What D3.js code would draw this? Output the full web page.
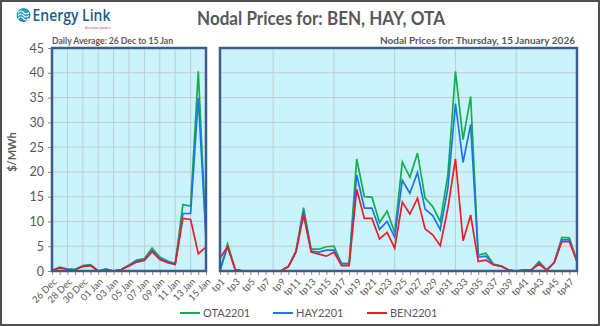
<!DOCTYPE html>
<html><head><meta charset="utf-8">
<script src="https://cdn.jsdelivr.net/npm/d3@7"></script>
<style>
body{margin:0;background:#fff}
svg{display:block;font-family:Lato,'Liberation Sans',sans-serif}
</style>
</head><body>
<svg id="c" width="600" height="326"></svg>
<script>
// ---------- DATA ----------
const days = ["26 Dec","27 Dec","28 Dec","29 Dec","30 Dec","31 Dec","01 Jan","02 Jan","03 Jan","04 Jan","05 Jan",
  "06 Jan","07 Jan","08 Jan","09 Jan","10 Jan","11 Jan","12 Jan","13 Jan","14 Jan","15 Jan"];
const otaDaily = [0.1,0.8,0.4,0.3,1.1,1.3,0.0,0.4,0.0,0.3,1.2,2.2,2.5,4.6,2.8,2.0,1.5,13.4,13.1,40.3,6.8];
const hayDaily = [0.1,0.7,0.4,0.3,1.0,1.2,0.0,0.4,0.0,0.3,1.1,2.0,2.3,4.2,2.5,1.9,1.4,11.6,11.6,34.9,6.7];
const benDaily = [0.1,0.6,0.3,0.2,0.9,1.1,0.0,0.3,0.0,0.3,1.0,1.8,2.1,3.9,2.3,1.7,1.3,10.6,10.4,3.5,4.8];

const periods = ["tp1","tp2","tp3","tp4","tp5","tp6","tp7","tp8","tp9","tp10","tp11","tp12","tp13","tp14","tp15","tp16",
  "tp17","tp18","tp19","tp20","tp21","tp22","tp23","tp24","tp25","tp26","tp27","tp28","tp29","tp30","tp31","tp32",
  "tp33","tp34","tp35","tp36","tp37","tp38","tp39","tp40","tp41","tp42","tp43","tp44","tp45","tp46","tp47","tp48"];
const otaTP = [0.1,5.5,0.3,0,0,0,0,0,0,0.9,4.0,12.8,4.4,4.4,4.9,5.0,1.5,1.5,22.6,15.0,14.9,9.8,12.1,7.7,
  22.0,18.9,23.8,14.7,13.0,10.0,19.4,40.3,26.5,35.2,3.2,3.6,1.4,1.0,0.2,0,0.2,0.2,1.9,0.2,1.7,6.8,6.7,1.9];
const hayTP = [0.1,4.9,0.3,0,0,0,0,0,0,0.9,3.9,12.0,4.0,3.8,4.2,4.2,1.5,1.5,19.4,12.7,12.7,8.4,10.0,6.8,
  18.3,15.7,19.9,12.5,11.2,8.4,16.7,33.8,21.9,29.6,2.8,3.0,1.3,1.0,0.2,0,0.2,0.2,1.7,0.2,1.7,6.3,6.3,1.9];
const benTP = [2.6,4.9,0.3,0,0,0,0,0,0,0.9,3.8,11.3,3.8,3.4,3.0,3.8,1.1,1.1,16.5,10.6,10.6,6.5,7.8,4.6,
  13.9,11.5,14.7,8.5,7.3,5.1,12.7,22.6,6.1,11.3,1.9,2.2,1.2,1.0,0.2,0,0.2,0.2,1.4,0.2,1.7,5.9,5.9,1.9];

const yTicks = [0,5,10,15,20,25,30,35,40,45];
const dayLabels = ["26 Dec","28 Dec","30 Dec","01 Jan","03 Jan","05 Jan","07 Jan","09 Jan","11 Jan","13 Jan","15 Jan"];
const tpLabels = ["tp1","tp3","tp5","tp7","tp9","tp11","tp13","tp15","tp17","tp19","tp21","tp23","tp25","tp27",
  "tp29","tp31","tp33","tp35","tp37","tp39","tp41","tp43","tp45","tp47"];
const tpGrid = ["tp8","tp16","tp24","tp32","tp40"];
const seriesNames = ["OTA2201","HAY2201","BEN2201"];
const colors = ["#10B04E","#1E74F0","#EE1C24"];

// ---------- DRAW ----------
const svg = d3.select("#c");
const txt = "#595959";
const bg = "#CBF3FC";
const grid = "#C2CCD3";
const frame = "#3C5D8A";

svg.append("rect").attr("x",1).attr("y",1).attr("width",598).attr("height",324)
  .attr("fill","#fff").attr("stroke","#505050").attr("stroke-width",2);

const y = d3.scaleLinear().domain([0,45]).range([271,48]);
const xL = d3.scalePoint().domain(days).range([52,206]);
const xR = d3.scalePoint().domain(periods).range([220,577]);

function panel(x, cats, series, vGrid, labels, showY) {
  const [x0,x1] = x.range();
  const g = svg.append("g");
  g.append("rect").attr("x",x0).attr("y",48).attr("width",x1-x0).attr("height",223).attr("fill",bg);
  g.selectAll("line.h").data(yTicks.slice(1)).join("line")
    .attr("x1",x0).attr("x2",x1).attr("y1",d=>y(d)).attr("y2",d=>y(d))
    .attr("stroke",grid).attr("stroke-width",1);
  g.selectAll("line.v").data(vGrid).join("line")
    .attr("x1",d=>x(d)).attr("x2",d=>x(d)).attr("y1",48).attr("y2",271)
    .attr("stroke",grid).attr("stroke-width",1);
  const line = d3.line().x((d,i)=>x(cats[i])).y(d=>y(d));
  series.forEach((s,k)=>{
    g.append("path").attr("d",line(s)).attr("fill","none")
      .attr("stroke",colors[k]).attr("stroke-width",1.7).attr("stroke-linejoin","miter");
  });
  const ax = g.append("g").attr("transform","translate(0,272)")
    .call(d3.axisBottom(x).tickValues(cats).tickSize(3).tickFormat(""));
  ax.select(".domain").remove();
  ax.selectAll("line").attr("stroke","#8C8C8C");
  g.selectAll("text.xl").data(labels).join("text")
    .attr("transform",d=>`translate(${x(d)+3},280) rotate(-45)`)
    .attr("text-anchor","end").attr("dy","0.35em")
    .attr("font-size",9.5).attr("fill",txt).text(d=>d);
  if (showY) {
    const ay = g.append("g").attr("transform",`translate(${x0},0)`)
      .call(d3.axisLeft(y).tickValues(yTicks).tickSize(4).tickPadding(4));
    ay.select(".domain").remove();
    ay.selectAll("line").attr("stroke","#8C8C8C");
    ay.selectAll("text").attr("font-size",12.5).attr("fill",txt).attr("font-family","Lato,sans-serif");
  }
  g.append("rect").attr("x",x0).attr("y",48).attr("width",x1-x0).attr("height",223)
    .attr("fill","none").attr("stroke",frame).attr("stroke-width",2.5);
}

panel(xL, days, [otaDaily,hayDaily,benDaily], dayLabels.slice(1,-1), dayLabels, true);
panel(xR, periods, [otaTP,hayTP,benTP], tpGrid, tpLabels, false);

// titles
svg.append("text").attr("x",197).attr("y",25)
  .attr("font-size",19).attr("font-weight","bold").attr("fill",txt)
  .attr("textLength",248).attr("lengthAdjust","spacingAndGlyphs")
  .text("Nodal Prices for: BEN, HAY, OTA");
svg.append("text").attr("x",52).attr("y",44).attr("font-size",9.5).attr("font-weight","bold")
  .attr("fill",txt).attr("textLength",121).attr("lengthAdjust","spacingAndGlyphs")
  .text("Daily Average: 26 Dec to 15 Jan");
svg.append("text").attr("x",380).attr("y",44).attr("font-size",9.5)
  .attr("font-weight","bold").attr("fill",txt).attr("textLength",195).attr("lengthAdjust","spacingAndGlyphs")
  .text("Nodal Prices for: Thursday, 15 January 2026");
svg.append("text").attr("transform","translate(16,152) rotate(-90)").attr("text-anchor","middle")
  .attr("font-size",11).attr("font-weight","bold").attr("fill",txt).text("$/MWh");

// legend
const legX = [180,273,367];
seriesNames.forEach((n,k)=>{
  svg.append("line").attr("x1",legX[k]).attr("x2",legX[k]+20).attr("y1",313).attr("y2",313)
    .attr("stroke",colors[k]).attr("stroke-width",2);
  svg.append("text").attr("x",legX[k]+23).attr("y",313).attr("dy","0.35em")
    .attr("font-size",11).attr("fill",txt).text(n);
});

// logo
const lg = svg.append("g");
const grad = svg.append("defs").append("linearGradient").attr("id","lgGrad")
  .attr("x1","0").attr("y1","0").attr("x2","1").attr("y2","1");
grad.append("stop").attr("offset","0").attr("stop-color","#2BB3C9");
grad.append("stop").attr("offset","1").attr("stop-color","#1A7FA6");
lg.append("circle").attr("cx",23.5).attr("cy",15).attr("r",7).attr("fill","url(#lgGrad)");
[ -2.5, 0.5, 3.5 ].forEach(o=>{
  lg.append("path").attr("d",`M18,${15+o} q3,-3 5.5,0 t5.5,0`).attr("fill","none")
    .attr("stroke","#fff").attr("stroke-width",1.2);
});
lg.append("text").attr("x",32.5).attr("y",20.5).attr("font-size",17).attr("font-weight","600")
  .attr("fill","#1E5A86").attr("font-family","'Open Sans',sans-serif")
  .attr("textLength",78).attr("lengthAdjust","spacingAndGlyphs").text("Energy Link");
lg.append("text").attr("x",85).attr("y",28.5).attr("font-size",3.6).attr("fill","#E0457B")
  .attr("textLength",26).attr("lengthAdjust","spacingAndGlyphs").text("decision power");
</script>
</body></html>
